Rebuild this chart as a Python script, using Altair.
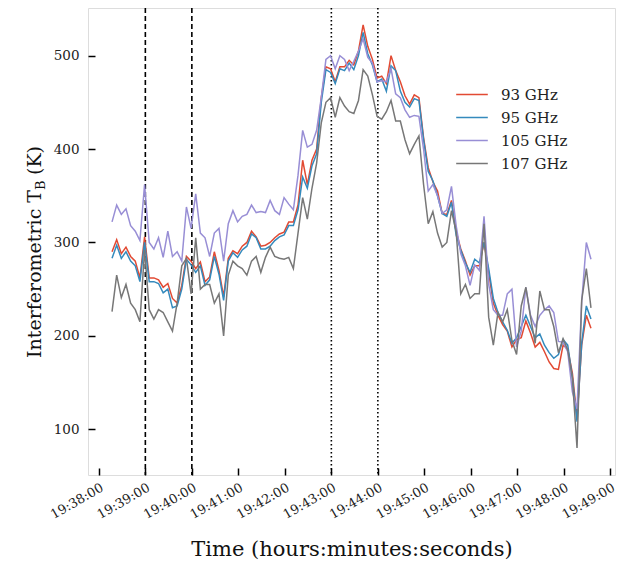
import altair as alt
import pandas as pd

# seconds after 19:38:00
t_sec = [17, 23, 29, 35, 41, 47, 53, 59, 65, 71, 77, 83, 89, 95, 101, 107, 113, 119, 125, 131,
         137, 143, 149, 155, 161, 167, 173, 179, 185, 191, 197, 203, 209, 215, 221, 227, 233, 239, 245, 251,
         257, 263, 269, 275, 281, 287, 293, 299, 305, 311, 317, 323, 329, 335, 341, 347, 353, 359, 365, 371,
         377, 383, 389, 395, 401, 407, 413, 419, 425, 431, 437, 443, 449, 455, 461, 467, 473, 479, 485, 491,
         497, 503, 509, 515, 521, 527, 533, 539, 545, 551, 557, 563, 569, 575, 581, 587, 593, 599, 605, 611,
         617, 623, 629, 635]

ghz93 = [290, 303, 288, 295, 285, 280, 262, 306, 262, 262, 260, 252, 256, 240, 235, 254, 285, 280, 272, 279,
         258, 263, 290, 270, 242, 283, 291, 288, 296, 300, 312, 306, 296, 297, 300, 305, 309, 311, 322, 322,
         340, 388, 362, 388, 400, 455, 488, 486, 472, 488, 488, 495, 490, 505, 533, 510, 496, 476, 478, 470,
         500, 484, 472, 457, 448, 458, 455, 412, 380, 365, 355, 331, 330, 345, 312, 293, 280, 265, 275, 275,
         300, 268, 235, 222, 212, 205, 188, 196, 198, 216, 203, 188, 193, 183, 172, 165, 164, 190, 186, 160,
         112, 190, 222, 208]

ghz95 = [283, 297, 283, 290, 280, 275, 258, 300, 258, 258, 256, 246, 250, 230, 232, 250, 282, 276, 268, 275,
         254, 260, 285, 266, 238, 280, 289, 284, 292, 296, 309, 305, 293, 293, 296, 302, 306, 308, 318, 318,
         335, 370, 358, 382, 395, 450, 485, 482, 470, 486, 484, 492, 485, 500, 525, 502, 490, 472, 475, 462,
         489, 484, 462, 450, 445, 454, 452, 410, 376, 366, 350, 331, 328, 343, 308, 292, 278, 268, 282, 278,
         300, 272, 240, 225, 215, 206, 192, 198, 210, 222, 210, 198, 202, 190, 182, 176, 180, 196, 190, 155,
         108, 192, 232, 218]

ghz105 = [322, 340, 330, 336, 318, 312, 302, 362, 300, 293, 305, 284, 312, 285, 290, 280, 338, 315, 352, 310,
          305, 285, 310, 315, 280, 320, 334, 322, 328, 330, 340, 332, 333, 332, 345, 334, 330, 348, 341, 335,
          372, 420, 402, 405, 420, 455, 496, 500, 486, 500, 496, 484, 494, 505, 518, 498, 492, 472, 473, 472,
          486, 459, 455, 442, 434, 436, 435, 400, 355, 362, 350, 331, 335, 360, 318, 288, 275, 254, 276, 270,
          328, 255, 228, 222, 222, 245, 250, 188, 205, 252, 222, 210, 222, 228, 232, 225, 194, 193, 183, 140,
          122, 236, 300, 282]

ghz107 = [226, 265, 241, 255, 235, 228, 215, 292, 228, 218, 228, 225, 215, 205, 235, 275, 283, 245, 305, 250,
          255, 255, 235, 245, 200, 265, 280, 275, 272, 265, 280, 285, 268, 284, 295, 285, 283, 282, 284, 272,
          310, 348, 325, 358, 385, 428, 450, 455, 434, 455, 446, 440, 438, 452, 485, 478, 458, 435, 432, 440,
          452, 430, 430, 410, 395, 405, 414, 362, 320, 333, 310, 295, 300, 334, 312, 245, 255, 240, 245, 245,
          320, 220, 190, 225, 215, 228, 195, 180, 232, 252, 220, 192, 248, 228, 228, 210, 182, 197, 185, 155,
          80, 238, 272, 230]

band_names = ["93 GHz", "95 GHz", "105 GHz", "107 GHz"]
band_colors = ["#E24A33", "#348ABD", "#988ED5", "#777777"]

dashed_times = [60, 120]    # 19:39:00, 19:40:00
dotted_times = [300, 360]   # 19:43:00, 19:44:00

x_tick_values = [0, 60, 120, 180, 240, 300, 360, 420, 480, 540, 600, 660]
y_tick_values = [100, 200, 300, 400, 500]

rows = []
for name, vals in zip(band_names, [ghz93, ghz95, ghz105, ghz107]):
    for t, v in zip(t_sec, vals):
        rows.append({"t": t, "tb": v, "band": name})
df = pd.DataFrame(rows)

W, H = 527, 467
FONT = "DejaVu Serif"

x_scale = alt.Scale(domain=[-14, 666], nice=False, zero=False)
y_scale = alt.Scale(domain=[51, 551], nice=False, zero=False)

label_expr = "'19:' + format(38 + datum.value / 60, '02d') + ':00'"

lines = alt.Chart(df).mark_line(strokeWidth=1.5).encode(
    x=alt.X("t:Q", scale=x_scale,
            axis=alt.Axis(orient="bottom", values=x_tick_values, ticks=False, domain=False, grid=False,
                          labelExpr=label_expr, labelAngle=330, labelAlign="right", labelBaseline="top",
                          labelPadding=6, labelFont=FONT, labelFontSize=13, labelColor="#222222",
                          labelOverlap=False, labelBound=False, labelFlush=False,
                          title="Time (hours:minutes:seconds)", titleFont=FONT, titleFontSize=21,
                          titleFontWeight="normal", titleColor="#111111", titleY=80,
                          titleBaseline="alphabetic")),
    y=alt.Y("tb:Q", scale=y_scale,
            axis=alt.Axis(orient="left", values=y_tick_values, ticks=False, domain=False, grid=False,
                          labelPadding=9, labelFont=FONT, labelFontSize=13.5, labelColor="#222222",
                          labelOverlap=False, title=None)),
    color=alt.Color("band:N", scale=alt.Scale(domain=band_names, range=band_colors),
                    legend=alt.Legend(title=None, orient="none", legendX=367, legendY=75,
                                      symbolType="stroke", symbolSize=1000, symbolStrokeWidth=1.5,
                                      labelFont=FONT, labelFontSize=15, labelColor="#222222",
                                      labelOffset=12, padding=0, rowPadding=0, clipHeight=23)),
)

tick_layer = alt.Chart(df).mark_line(opacity=0).encode(
    x=alt.X("t:Q", scale=x_scale,
            axis=alt.Axis(orient="top", offset=-H, values=x_tick_values, labels=False, domain=False,
                          grid=False, ticks=True, tickSize=7, tickWidth=1.5, tickColor="black", title=None)),
    y=alt.Y("tb:Q", scale=y_scale,
            axis=alt.Axis(orient="right", offset=-W, values=y_tick_values, labels=False, domain=False,
                          grid=False, ticks=True, tickSize=7, tickWidth=1.5, tickColor="black", title=None)),
)

dash_rules = alt.Chart(pd.DataFrame({"t": dashed_times})).mark_rule(
    color="black", strokeWidth=1.6, strokeDash=[5, 3]
).encode(x=alt.X("t:Q", scale=x_scale, axis=None))

dot_rules = alt.Chart(pd.DataFrame({"t": dotted_times})).mark_rule(
    color="black", strokeWidth=1.6, strokeDash=[1.6, 2.4]
).encode(x=alt.X("t:Q", scale=x_scale, axis=None))

one = pd.DataFrame({"a": [0]})
TX, TY = -47, 182
ytitle_main = alt.Chart(one).mark_text(font=FONT, fontSize=19, angle=270, align="right",
                                       baseline="alphabetic", color="#111111").encode(
    x=alt.value(TX), y=alt.value(TY), text=alt.value("Interferometric T"))
ytitle_sub = alt.Chart(one).mark_text(font=FONT, fontSize=13, angle=270, align="left",
                                      baseline="alphabetic", dy=4, color="#111111").encode(
    x=alt.value(TX), y=alt.value(TY), text=alt.value("B"))
ytitle_end = alt.Chart(one).mark_text(font=FONT, fontSize=19, angle=270, align="left",
                                      baseline="alphabetic", dx=15, color="#111111").encode(
    x=alt.value(TX), y=alt.value(TY), text=alt.value("(K)"))

chart = alt.layer(tick_layer, dash_rules, dot_rules, lines, ytitle_main, ytitle_sub, ytitle_end).resolve_axis(
    x="independent", y="independent"
).properties(
    width=W, height=H,
    autosize=alt.AutoSizeParams(type="none"),
    padding={"left": 88, "top": 8, "right": 15, "bottom": 87},
).configure_view(
    stroke="#bfbfbf", strokeWidth=2
).configure(background="white")

chart.save("out.html", embed_options={"renderer": "svg", "actions": False})
